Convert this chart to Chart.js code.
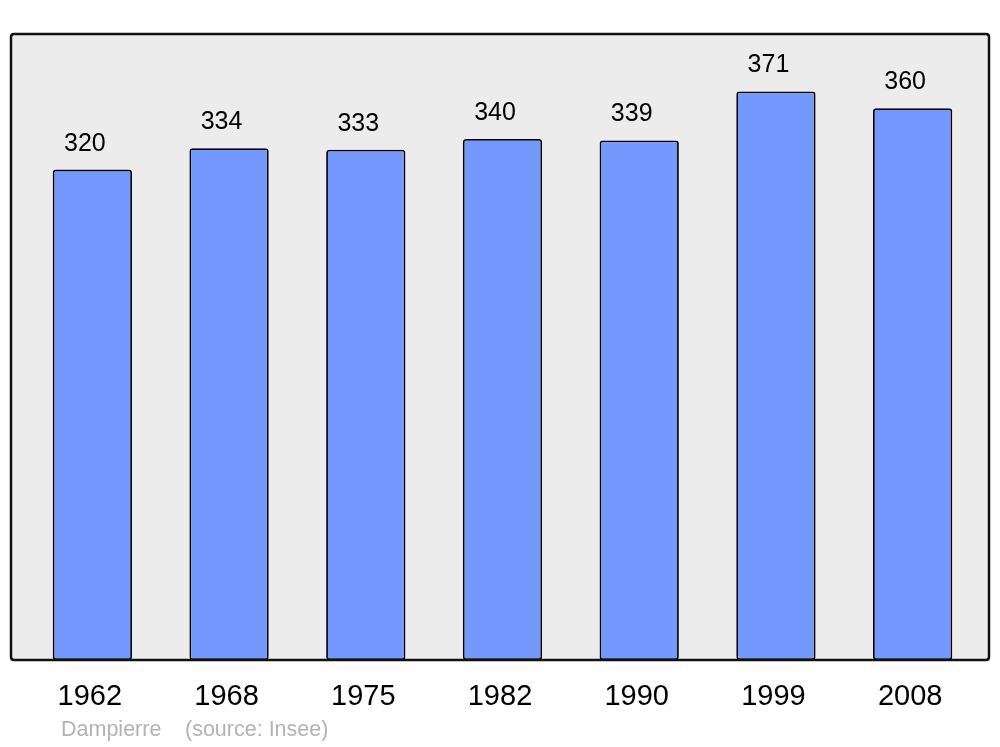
<!DOCTYPE html>
<html>
<head>
<meta charset="utf-8">
<script src="https://cdn.jsdelivr.net/npm/chart.js@4/dist/chart.umd.min.js"></script>
<style>
  html, body { margin: 0; padding: 0; background: #fff; }
  #wrap { width: 1000px; height: 747px; position: relative; }
</style>
</head>
<body>
<div id="wrap"><canvas id="popChart" width="1000" height="747"></canvas></div>
<script>
var years = ['1962', '1968', '1975', '1982', '1990', '1999', '2008'];
var population = [320, 334, 333, 340, 339, 371, 360];
var townName = 'Dampierre';
var sourceText = '(source: Insee)';

var FONT = '"Liberation Sans", Arial, sans-serif';

function roundRect(ctx, x, y, w, h, r) {
    ctx.beginPath();
    ctx.moveTo(x + r, y);
    ctx.lineTo(x + w - r, y);
    ctx.quadraticCurveTo(x + w, y, x + w, y + r);
    ctx.lineTo(x + w, y + h - r);
    ctx.quadraticCurveTo(x + w, y + h, x + w - r, y + h);
    ctx.lineTo(x + r, y + h);
    ctx.quadraticCurveTo(x, y + h, x, y + h - r);
    ctx.lineTo(x, y + r);
    ctx.quadraticCurveTo(x, y, x + r, y);
    ctx.closePath();
}

// grey frame behind the bars, black outline on top
var framePlugin = {
    id: 'frame',
    beforeDraw: function (chart) {
        var ctx = chart.ctx, a = chart.chartArea;
        ctx.save();
        ctx.fillStyle = '#ffffff';
        ctx.fillRect(0, 0, chart.width, chart.height);
        roundRect(ctx, 11, a.top, 978, a.bottom - a.top, 3);
        ctx.fillStyle = '#ececec';
        ctx.fill();
        ctx.restore();
    },
    afterDraw: function (chart) {
        var ctx = chart.ctx, a = chart.chartArea;
        ctx.save();
        roundRect(ctx, 11, a.top, 978, a.bottom - a.top, 3);
        ctx.lineWidth = 2.5;
        ctx.strokeStyle = '#111111';
        ctx.stroke();

        ctx.font = '21.5px ' + FONT;
        ctx.fillStyle = '#b3b3b3';
        ctx.textBaseline = 'middle';
        ctx.textAlign = 'left';
        ctx.fillText(townName, 61, 730);
        ctx.fillText(sourceText, 185, 730);
        ctx.restore();
    }
};

var valueLabels = {
    id: 'valueLabels',
    afterDatasetsDraw: function (chart) {
        var ctx = chart.ctx;
        var meta = chart.getDatasetMeta(0);
        ctx.save();
        ctx.font = '25px ' + FONT;
        ctx.fillStyle = '#000';
        ctx.textAlign = 'center';
        ctx.textBaseline = 'middle';
        meta.data.forEach(function (bar, i) {
            ctx.fillText(String(population[i]), bar.x - 7.5, bar.y - 26);
        });
        ctx.restore();
    }
};

new Chart(document.getElementById('popChart'), {
    type: 'bar',
    data: {
        labels: years,
        datasets: [{
            data: population,
            backgroundColor: '#7399ff',
            borderColor: '#000000',
            borderWidth: 1.8,
            borderRadius: 3,
            borderSkipped: false,
            categoryPercentage: 1,
            barPercentage: 0.58
        }]
    },
    options: {
        responsive: false,
        animation: false,
        layout: { padding: { left: 24, right: 19, top: 34, bottom: 13 } },
        plugins: { legend: { display: false }, tooltip: { enabled: false } },
        scales: {
            y: { display: false, min: 0, max: 408.5 },
            x: {
                grid: { display: false, drawTicks: false },
                border: { display: false },
                ticks: { color: '#000', font: { size: 29, family: FONT }, padding: 19.6, labelOffset: -2.5 }
            }
        }
    },
    plugins: [framePlugin, valueLabels]
});
</script>
</body>
</html>
